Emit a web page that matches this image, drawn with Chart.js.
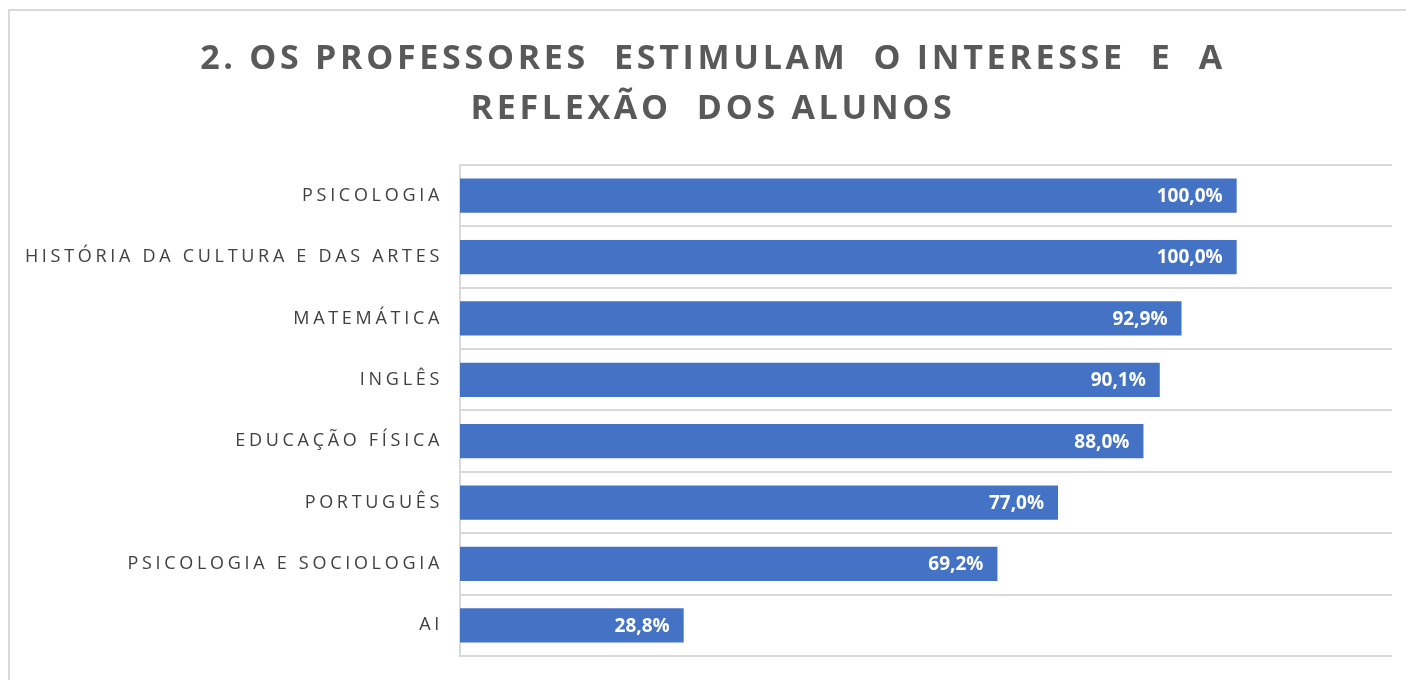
<!DOCTYPE html>
<html>
<head>
<meta charset="utf-8">
<script src="https://cdn.jsdelivr.net/npm/chart.js@4.4.1/dist/chart.umd.min.js"></script>
<style>
  body { margin: 0; background: #fff; }
  #wrap { position: relative; width: 1406px; height: 680px; overflow: hidden; }
  #frame { position: absolute; left: 8px; top: 9px; width: 1420px; height: 700px;
           border-left: 2px solid #d9d9d9; border-top: 2px solid #d9d9d9; pointer-events: none; }
</style>
</head>
<body>
<div id="wrap">
  <canvas id="myChart" width="1406" height="680"></canvas>
  <div id="frame"></div>
</div>
<script>
// data
var disciplinas = ["PSICOLOGIA", "HISTÓRIA DA CULTURA E DAS ARTES", "MATEMÁTICA", "INGLÊS",
                   "EDUCAÇÃO FÍSICA", "PORTUGUÊS", "PSICOLOGIA E SOCIOLOGIA", "AI"];
var percentagens = [100.0, 100.0, 92.9, 90.1, 88.0, 77.0, 69.2, 28.8];
var tituloLinhas = ["2. OS PROFESSORES  ESTIMULAM  O INTERESSE  E  A", "REFLEXÃO  DOS ALUNOS"];

function fmtPct(v) {
    return v.toFixed(1).replace(".", ",") + "%";
}

// canvas letter spacing for title and category labels
var spacingPlugin = {
    id: "spacing",
    beforeLayout: function(chart) { chart.ctx.letterSpacing = "3.7px"; },
    afterLayout: function(chart) {
        // let the long category label run into the left padding (no clipping)
        chart.scales.y.left = 0;
    },
    beforeDraw: function(chart) { chart.ctx.letterSpacing = "3.7px"; }
};

// white value labels at the end of each bar
var valueLabels = {
    id: "valueLabels",
    afterDatasetsDraw: function(chart) {
        var ctx = chart.ctx;
        var meta = chart.getDatasetMeta(0);
        ctx.save();
        ctx.letterSpacing = "0px";
        ctx.fillStyle = "#ffffff";
        ctx.font = "bold 19px 'Open Sans'";
        ctx.textAlign = "right";
        ctx.textBaseline = "middle";
        meta.data.forEach(function(bar, i) {
            ctx.fillText(fmtPct(percentagens[i]), bar.x - 14, bar.y + 1);
        });
        ctx.restore();
    }
};

var myChart = new Chart("myChart", {
    type: "bar",
    data: {
        labels: disciplinas,
        datasets: [{
            data: percentagens,
            backgroundColor: "#4472C4",
            barPercentage: 0.9,
            categoryPercentage: 0.62
        }]
    },
    options: {
        indexAxis: "y",
        responsive: false,
        animation: false,
        layout: { padding: { left: 34, right: 14, top: 0, bottom: 24 } },
        plugins: {
            legend: { display: false },
            tooltip: { enabled: false },
            title: {
                display: true,
                text: tituloLinhas,
                color: "#595959",
                font: { family: "'Open Sans'", size: 34, weight: "bold", lineHeight: 1.47 },
                padding: { top: 34, bottom: 31 }
            }
        },
        scales: {
            x: {
                display: false,
                min: 0,
                max: 120
            },
            y: {
                afterFit: function(scale) {
                    scale.width = 426;
                    scale.paddingTop = 0;
                    scale.paddingBottom = 0;
                },
                border: { display: true, color: "#d9d9d9", width: 2 },
                grid: { color: "#d9d9d9", lineWidth: 2, drawTicks: false, offset: true },
                ticks: {
                    color: "#404040",
                    padding: 17,
                    font: { family: "'Open Sans'", size: 18 }
                }
            }
        }
    },
    plugins: [spacingPlugin, valueLabels]
});
</script>
</body>
</html>
